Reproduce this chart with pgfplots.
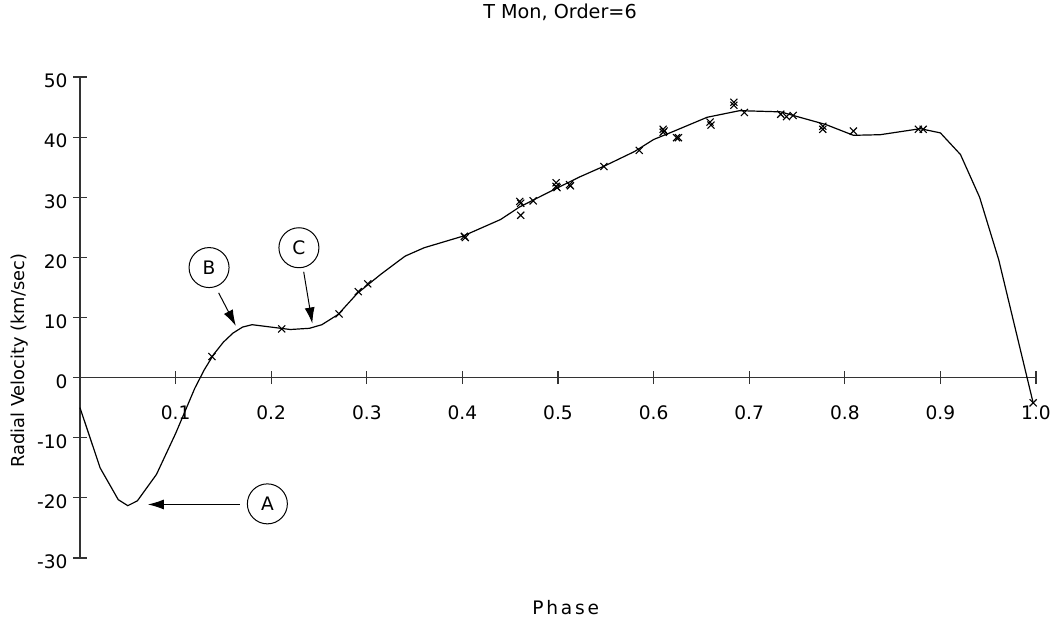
\documentclass[border=0pt]{standalone}
\usepackage{pgfplots}
\pgfplotsset{compat=1.18}
\usepackage{pgfplotstable}
\usepackage{fontspec}
\setmainfont{DejaVu Sans}
\usetikzlibrary{arrows.meta}

% fitted curve (order 6)
\pgfplotstableread{
phase rv
0.000 -5.0
0.021 -15.0
0.040 -20.3
0.050 -21.3
0.060 -20.5
0.080 -16.1
0.100 -9.3
0.120 -1.8
0.130 1.3
0.140 3.9
0.150 5.9
0.160 7.4
0.170 8.4
0.180 8.8
0.200 8.4
0.220 8.0
0.240 8.2
0.253 8.8
0.270 10.5
0.290 14.0
0.314 17.1
0.340 20.2
0.360 21.6
0.400 23.5
0.440 26.3
0.460 28.4
0.480 30.0
0.500 31.6
0.523 33.4
0.550 35.3
0.580 37.6
0.600 39.6
0.620 40.9
0.656 43.3
0.690 44.4
0.733 44.2
0.746 43.6
0.780 42.1
0.809 40.3
0.837 40.4
0.879 41.4
0.900 40.7
0.921 37.1
0.941 30.0
0.961 19.6
0.997 -4.2
}\fitcurve

% observations
\pgfplotstableread{
phase rv
0.138 3.5
0.211 8.1
0.271 10.6
0.291 14.3
0.301 15.6
0.402 23.5
0.403 23.3
0.460 29.3
0.461 29.0
0.461 27.0
0.474 29.4
0.498 32.4
0.498 31.8
0.499 31.6
0.512 32.1
0.513 31.9
0.548 35.1
0.585 37.8
0.610 41.3
0.610 40.8
0.611 41.0
0.624 39.9
0.626 39.9
0.659 42.5
0.660 42.0
0.684 45.8
0.684 45.3
0.695 44.1
0.733 43.8
0.739 43.4
0.746 43.6
0.777 41.8
0.777 41.3
0.809 41.0
0.877 41.3
0.882 41.3
0.997 -4.2
}\obs

\begin{document}
\begin{tikzpicture}
\begin{axis}[name=ax,
  scale only axis, width=478pt, height=240.5pt,
  xmin=0, xmax=1, ymin=-30, ymax=50,
  axis x line=middle, axis y line=left,
  axis line style={-, line width=0.65pt, black!80},
  tick align=center, major tick length=6.5pt,
  tick style={line width=0.6pt, black!80},
  xtick={0.1,0.2,0.3,0.4,0.5,0.6,0.7,0.8,0.9,1.0},
  xticklabels={0.1,0.2,0.3,0.4,0.5,0.6,0.7,0.8,0.9,1.0},
  ytick={-30,-20,-10,0,10,20,30,40,50},
  yticklabels={-30,-20,-10,0,10,20,30,40,50},
  ticklabel style={font=\fontsize{9.3}{11}\selectfont},
  xticklabel style={anchor=north, yshift=-7.5pt},
  yticklabel style={anchor=east, xshift=0.5pt, yshift=-2pt},
  xlabel={\addfontfeature{LetterSpace=15}Phase},
  xlabel style={at={(axis description cs:0.508,-0.104)}, anchor=center,
    font=\fontsize{9.3}{11}\selectfont},
  ylabel={Radial Velocity (km/sec)},
  ylabel style={at={(axis description cs:-0.063,0.41)}, anchor=center,
    font=\fontsize{8.9}{10}\selectfont},
  clip=false,
]
\addplot[black, line width=0.6pt, mark=none] table[x=phase, y=rv] {\fitcurve};
\addplot[only marks, mark=x, mark size=2.5pt, mark options={line width=0.55pt, black}] table[x=phase, y=rv] {\obs};

% annotations
\tikzset{lbl/.style={draw, circle, minimum size=20pt, inner sep=0pt, line width=0.5pt,
  font=\fontsize{9.3}{11}\selectfont}}
\node[lbl] at (axis cs:0.196,-21.0) {A};
\draw[line width=0.5pt, -{Latex[length=8pt, width=5pt]}] (axis cs:0.167,-21.1) -- (axis cs:0.071,-21.1);
\node[lbl] at (axis cs:0.135,18.3) {B};
\draw[line width=0.5pt, -{Latex[length=8pt, width=5pt]}] (axis cs:0.145,14.1) -- (axis cs:0.163,8.6);
\node[lbl] at (axis cs:0.229,21.6) {C};
\draw[line width=0.5pt, -{Latex[length=8pt, width=5pt]}] (axis cs:0.234,17.6) -- (axis cs:0.243,9.0);
\end{axis}
\node[font=\fontsize{9.6}{11}\selectfont, anchor=center] at ([xshift=1pt, yshift=32.5pt]ax.north) {T Mon, Order=6};
\pgfresetboundingbox
\path ([shift={(-40pt,-30.5pt)}]ax.south west) rectangle ([shift={(9pt,38.5pt)}]ax.north east);
\end{tikzpicture}
\end{document}
